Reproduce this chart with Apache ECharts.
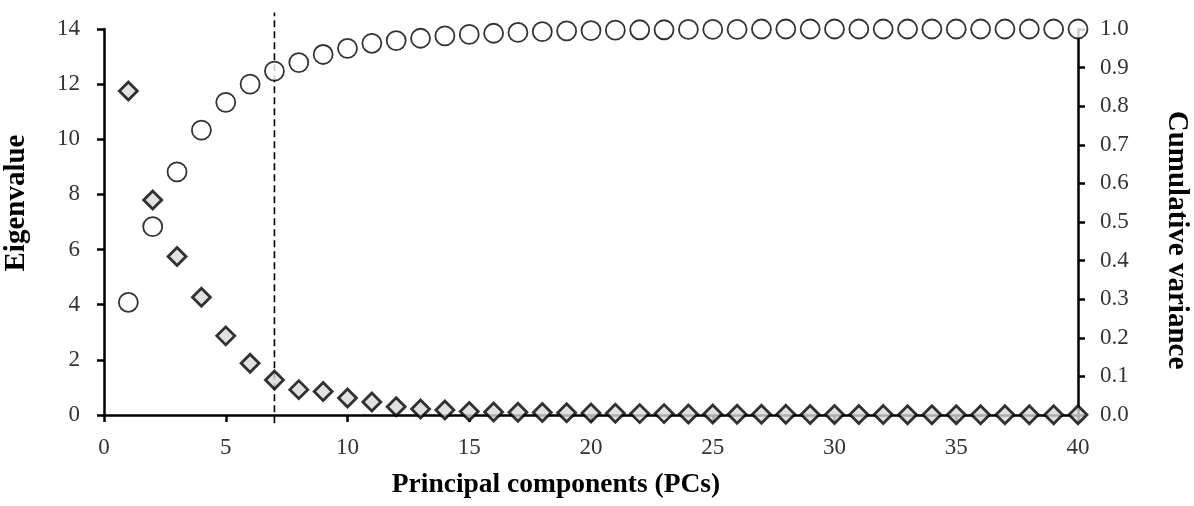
<!DOCTYPE html>
<html>
<head>
<meta charset="utf-8">
<script src="https://cdn.jsdelivr.net/npm/echarts@6/dist/echarts.min.js"></script>
<style>html,body{margin:0;padding:0;background:#fff;}#c{width:1194px;height:506px;}</style>
</head>
<body>
<div id="c"></div>
<script>
var pcs = [];
for (var i = 1; i <= 40; i++) pcs.push(i);
var eigenvalues = [11.75, 7.80, 5.75, 4.27, 2.87, 1.88, 1.27, 0.92, 0.85, 0.62,
  0.47, 0.30, 0.22, 0.18, 0.13, 0.11, 0.10, 0.09, 0.08, 0.07,
  0.06, 0.05, 0.05, 0.04, 0.04, 0.03, 0.03, 0.03, 0.02, 0.02,
  0.02, 0.02, 0.01, 0.01, 0.01, 0.01, 0.01, 0.01, 0.01, 0.01];
var cumulative = [0.292, 0.488, 0.630, 0.738, 0.810, 0.857, 0.891, 0.913, 0.934, 0.950,
  0.963, 0.970, 0.976, 0.982, 0.986, 0.989, 0.991, 0.993, 0.995, 0.996,
  0.997, 0.998, 0.998, 0.999, 0.999, 0.999, 1.000, 1.000, 1.000, 1.000,
  1.000, 1.000, 1.000, 1.000, 1.000, 1.000, 1.000, 1.000, 1.000, 1.000];
var cutoffPC = 7;
var cutoffLine = [[cutoffPC, -0.3], [cutoffPC, 14.6]];

var font = 'Liberation Serif, Times New Roman, serif';
var axisLineStyle = {color: '#000', width: 2.5};
var chart = echarts.init(document.getElementById('c'));
chart.setOption({
  animation: false,
  grid: {left: 104, right: 116, top: 29, bottom: 91, containLabel: false, outerBoundsMode: 'none'},
  xAxis: {
    type: 'value', min: 0, max: 40, interval: 5,
    name: 'Principal components (PCs)', nameLocation: 'middle', nameGap: 56,
    nameTextStyle: {fontFamily: font, fontSize: 27.5, fontWeight: 'bold', color: '#000', padding: [0, 70, 0, 0]},
    axisLine: {show: true, lineStyle: axisLineStyle, onZero: false},
    axisTick: {show: true, inside: false, length: 7, lineStyle: axisLineStyle},
    axisLabel: {fontFamily: font, fontSize: 23, color: '#333', margin: 21},
    splitLine: {show: false}
  },
  yAxis: [{
    type: 'value', min: 0, max: 14, interval: 2,
    name: 'Eigenvalue', nameLocation: 'middle', nameGap: 73,
    nameTextStyle: {fontFamily: font, fontSize: 29, fontWeight: 'bold', color: '#000', padding: [0, 0, 0, 38]},
    axisLine: {show: true, lineStyle: axisLineStyle},
    axisTick: {show: true, inside: false, length: 7, lineStyle: axisLineStyle},
    axisLabel: {fontFamily: font, fontSize: 23, color: '#333', margin: 24},
    splitLine: {show: false}
  }, {
    type: 'value', min: 0, max: 1, interval: 0.1, position: 'right',
    name: 'Cumulative variance', nameLocation: 'middle', nameGap: 84, nameRotate: -90,
    nameTextStyle: {fontFamily: font, fontSize: 29, fontWeight: 'bold', color: '#000', padding: [0, 0, 0, 36]},
    axisLine: {show: true, lineStyle: axisLineStyle},
    axisTick: {show: true, inside: false, length: 7, lineStyle: axisLineStyle},
    axisLabel: {fontFamily: font, fontSize: 23, color: '#333', margin: 22,
      formatter: function (v) { return v.toFixed(1); }},
    splitLine: {show: false}
  }],
  series: [{
    type: 'line', data: cutoffLine, yAxisIndex: 0, clip: false, symbol: 'none', z: 1,
    lineStyle: {color: '#000', width: 1.6, type: [7, 4]}, silent: true
  }, {
    type: 'scatter', yAxisIndex: 0, z: 3,
    data: pcs.map(function (p, i) { return [p, eigenvalues[i]]; }),
    symbol: 'diamond', symbolSize: 18,
    itemStyle: {color: '#d9d9d9', borderColor: '#000', borderWidth: 2.8}
  }, {
    type: 'scatter', yAxisIndex: 1, z: 4,
    data: pcs.map(function (p, i) { return [p, cumulative[i]]; }),
    symbol: 'circle', symbolSize: 19,
    itemStyle: {color: '#fff', borderColor: '#000', borderWidth: 1.8}
  }]
});
</script>
</body>
</html>
